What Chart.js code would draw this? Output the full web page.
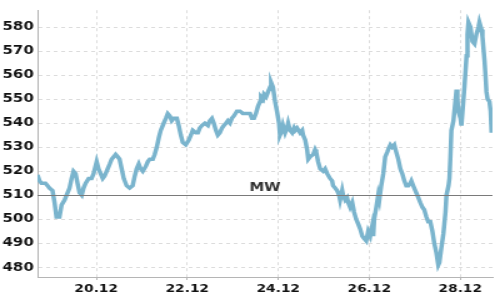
<!DOCTYPE html>
<html>
<head>
<meta charset="utf-8">
<script src="https://cdn.jsdelivr.net/npm/chart.js@4/dist/chart.umd.min.js"></script>
<style>
	html, body { margin: 0; padding: 0; background: #fff; }
</style>
</head>
<body>
<canvas id="cnvs" width="400" height="300" style="width:500px;height:300px;display:block"></canvas>
<script>
// hours counted from 18.12 00:00
var hours = [17.0, 18.1, 19.1, 21.2, 22.3, 23.3, 24.9, 26.0, 27.0, 28.6, 29.7, 31.3, 32.3, 33.9, 35.0, 36.0, 37.1, 38.1, 39.2, 40.3,
	41.3, 42.4, 44.0, 45.5, 46.6, 48.2, 49.2, 50.3, 51.4, 52.4, 54.0, 55.1, 56.1, 57.2, 58.2, 59.3, 60.3, 61.4, 62.5, 64.0,
	65.6, 67.2, 68.3, 69.3, 70.4, 71.4, 72.5, 74.1, 75.2, 76.2, 77.8, 78.8, 79.9, 81.0, 82.0, 83.6, 84.7, 85.7, 86.8, 87.8,
	88.9, 90.5, 91.5, 92.6, 93.6, 95.2, 96.8, 97.9, 98.9, 100.5, 101.6, 102.6, 103.7, 105.3, 106.9, 107.9, 109.0, 110.0, 111.1, 112.1,
	113.2, 114.3, 115.3, 116.4, 117.4, 118.5, 119.5, 120.6, 122.2, 123.8, 125.3, 127.5, 129.1, 130.1, 131.2, 132.2, 133.3, 134.4, 134.9, 136.0,
	136.5, 137.6, 138.6, 139.7, 140.2, 141.2, 142.3, 143.3, 144.4, 144.9, 146.0, 146.5, 147.6, 148.6, 149.2, 150.2, 151.3, 152.3, 152.9, 153.9,
	155.5, 156.6, 157.1, 158.2, 159.2, 159.8, 160.8, 162.4, 163.4, 164.0, 165.0, 166.1, 167.7, 168.7, 169.8, 171.3, 172.4, 172.9, 174.0, 175.0,
	176.1, 176.6, 177.7, 178.2, 179.3, 180.3, 180.9, 181.9, 183.0, 184.0, 185.1, 186.2, 187.2, 188.3, 189.3, 190.4, 191.4, 192.5, 193.5, 194.1,
	194.6, 195.7, 196.7, 197.3, 198.3, 199.4, 200.4, 201.5, 202.5, 203.1, 204.1, 205.2, 206.2, 207.3, 208.4, 209.4, 210.5, 211.5, 212.6, 213.6,
	214.2, 215.2, 216.8, 217.9, 218.9, 220.0, 221.0, 222.1, 223.1, 224.2, 225.3, 226.3, 227.4, 228.4, 229.0, 230.0, 231.1, 231.6, 232.2, 232.7,
	233.8, 234.3, 234.8, 235.3, 236.4, 237.4, 238.0, 238.5, 239.0, 240.1, 240.6, 241.2, 242.2, 243.3, 243.8, 244.3, 245.4, 246.4, 247.5, 248.5,
	249.6, 250.1, 251.2, 251.7, 252.8, 253.3, 253.8, 254.4, 255.4, 256.0, 256.5];

var values = [518.5, 516, 515, 515, 514, 513, 512, 507, 501, 501, 506, 508, 510, 513, 517, 520, 519, 515, 511, 510,
	513, 515, 517, 517, 519, 524, 521, 519, 517, 518, 521, 523, 525, 526, 527, 526, 525, 521, 517, 514,
	513, 514, 518, 521, 523, 521, 520, 522, 524, 525, 525, 527, 530, 534, 537, 540, 542, 544, 543, 541,
	542, 542, 539, 535, 532, 531, 533, 535, 537, 536, 536, 538, 539, 540, 539, 541, 542, 540, 537, 535,
	536, 538, 539, 540, 541, 540, 542, 543, 545, 545, 544, 544, 544, 542, 542, 544, 547, 549, 551, 550,
	552, 551, 553, 555, 557, 555, 549, 545, 540, 535, 537, 539, 536, 538, 540, 537, 536, 538, 537, 538,
	536, 537, 535, 533, 529, 525, 526, 527, 529, 528, 524, 521, 520, 521, 519, 517, 516, 514, 513, 512,
	510, 508, 512, 510, 508, 509, 507, 505, 507, 503, 500, 498, 496, 493, 492, 491, 495, 493, 497, 493,
	500, 505, 510, 508, 514, 519, 526, 528, 530, 531, 530, 531, 528, 525, 521, 519, 516, 514, 514, 515,
	516, 514, 511, 509, 507, 505, 504, 501, 499, 499, 495, 490, 486, 481, 482, 488, 494, 498, 503, 510,
	514, 517, 526, 537, 541, 549, 554, 550, 545, 542, 539, 545, 555, 568, 577, 582, 580, 574, 573, 577,
	580, 582, 579, 576, 566, 560, 553, 550, 549, 545, 536];

var tickHours = [48, 96, 144, 192, 240];
var tickLabels = ['20.12', '22.12', '24.12', '26.12', '28.12'];

var mwValue = 510;
var mwLabel = 'MW';

var points = [];
for (var i = 0; i < hours.length; i++)
{
	points.push({x: hours[i], y: values[i]});
}

var fontFamily = '"DejaVu Sans", Verdana, sans-serif';

var mwPlugin = {
	id: 'mwLine',
	afterDatasetsDraw(chart)
	{
		var ctx = chart.ctx;
		var area = chart.chartArea;
		var py = Math.round(chart.scales.y.getPixelForValue(mwValue)) + 0.5;
		ctx.save();
		ctx.strokeStyle = '#7a7a7a';
		ctx.lineWidth = 1;
		ctx.beginPath();
		ctx.moveTo(area.left, py);
		ctx.lineTo(area.right, py);
		ctx.stroke();
		ctx.fillStyle = '#333';
		ctx.font = 'bold 12px ' + fontFamily;
		ctx.textAlign = 'center';
		ctx.textBaseline = 'bottom';
		ctx.fillText(mwLabel, (area.left + area.right) / 2, py - 2);
		ctx.restore();
	}
};

var ctx = document.getElementById('cnvs').getContext('2d');
var chart = new Chart(ctx, {
	type: 'line',
	data: {
		datasets: [{
			data: points,
			borderColor: '#7ab4cd',
			borderWidth: 3.5,
			pointRadius: 0,
			tension: 0,
			fill: false
		}]
	},
	options: {
		responsive: false,
		animation: false,
		layout: { padding: { top: 5, right: 6, left: 0, bottom: 0 } },
		plugins: { legend: { display: false }, tooltip: { enabled: false } },
		scales: {
			x: {
				type: 'linear',
				min: 17,
				max: 257,
				afterFit: function(scale) { scale.height = 23; },
				afterBuildTicks: function(scale) {
					scale.ticks = tickHours.map(function(h) { return {value: h}; });
				},
				ticks: {
					autoSkip: false,
					maxRotation: 0,
					padding: 3,
					color: '#111',
					font: { family: fontFamily, size: 11, weight: 'bold' },
					callback: function(v) { return tickLabels[tickHours.indexOf(v)]; }
				},
				grid: {
					color: '#dcdcdc',
					tickLength: 3,
					tickColor: '#b5b5b5',
					tickBorderDash: []
				},
				border: { color: '#b5b5b5', dash: [3, 3] }
			},
			y: {
				min: 476,
				max: 587,
				afterFit: function(scale) { scale.width = 30; },
				ticks: {
					stepSize: 10,
					includeBounds: false,
					padding: 3,
					color: '#111',
					font: { family: fontFamily, size: 12, weight: 'bold' }
				},
				grid: {
					color: '#dcdcdc',
					drawTicks: false
				},
				border: { color: '#b5b5b5', dash: [3, 3] }
			}
		}
	},
	plugins: [mwPlugin]
});
</script>
</body>
</html>
